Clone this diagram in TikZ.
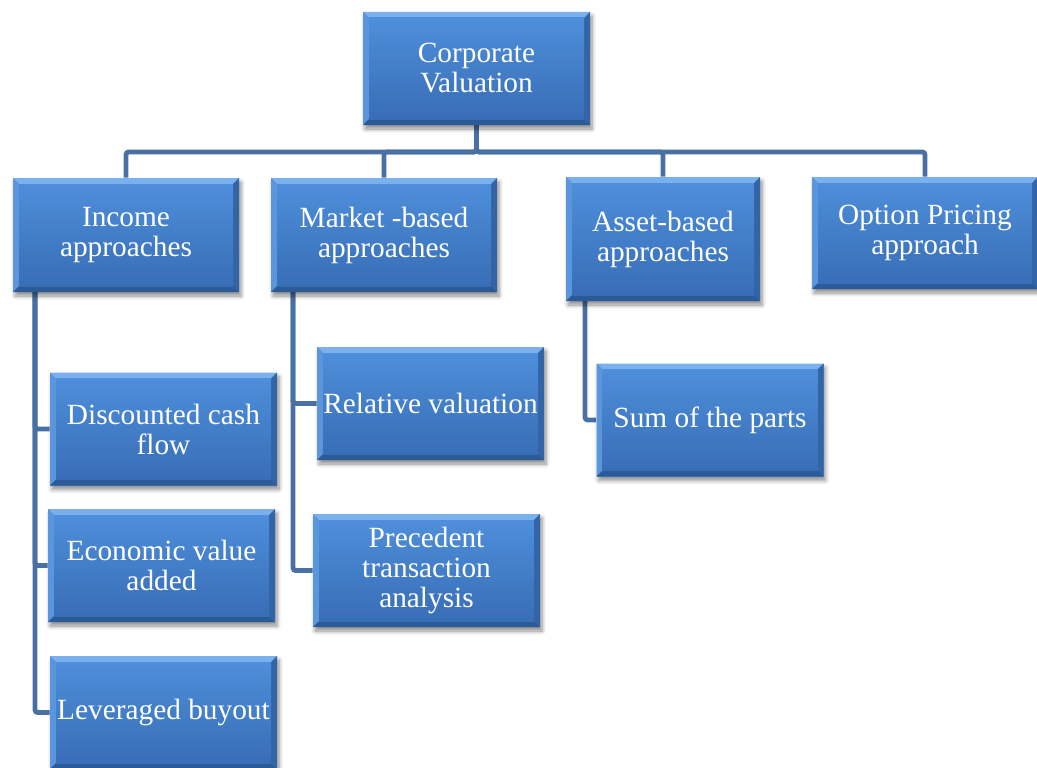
\documentclass[tikz,border=0pt]{standalone}
\usepackage{fontspec}
\setmainfont{Liberation Serif}
\usetikzlibrary{calc,shadows.blur,backgrounds}

\definecolor{facetop}{RGB}{78,142,218}
\definecolor{facebot}{RGB}{56,110,182}
\definecolor{bevtop}{RGB}{122,176,238}
\definecolor{bevleft}{RGB}{90,150,222}
\definecolor{bevright}{RGB}{50,100,166}
\definecolor{bevbot}{RGB}{44,90,150}
\definecolor{linkblue}{RGB}{72,112,164}

\newcommand\boxfont{\fontsize{22}{22.5}\selectfont}
\newcommand\bev{4.5pt}

\tikzset{
  bevel/.style={
    path picture={
      \coordinate (pNW) at (path picture bounding box.north west);
      \coordinate (pNE) at (path picture bounding box.north east);
      \coordinate (pSW) at (path picture bounding box.south west);
      \coordinate (pSE) at (path picture bounding box.south east);
      \coordinate (iNW) at ($(pNW)+(\bev,-\bev)$);
      \coordinate (iNE) at ($(pNE)+(-\bev,-\bev)$);
      \coordinate (iSW) at ($(pSW)+(\bev,\bev)$);
      \coordinate (iSE) at ($(pSE)+(-\bev,\bev)$);
      \fill[bevtop] (pNW) -- (pNE) -- (iNE) -- (iNW) -- cycle;
      \fill[bevleft] (pNW) -- (iNW) -- (iSW) -- (pSW) -- cycle;
      \fill[bevright] (pNE) -- (iNE) -- (iSE) -- (pSE) -- cycle;
      \fill[bevbot] (pSW) -- (iSW) -- (iSE) -- (pSE) -- cycle;
      \shade[top color=facetop, bottom color=facebot] (iNW) rectangle (iSE);
    }},
  box/.style={bevel, fill=facetop, text=white, font=\boxfont, align=center,
    inner sep=0pt, minimum width=227*0.75pt, minimum height=113*0.75pt,
    blur shadow={shadow xshift=1.5pt, shadow yshift=-3pt,
      shadow blur radius=3pt, shadow blur steps=6, shadow opacity=45}},
  link/.style={draw=linkblue, line width=3.6pt, rounded corners=2pt}
}

\begin{document}
\begin{tikzpicture}[x=0.75pt, y=-0.75pt]
\useasboundingbox (0,0) rectangle (1037,767);
\clip (0,0) rectangle (1037,767);

% top level
\node[box] (corp) at (476.5,68.5) {Corporate\\Valuation};

% main approaches
\node[box, minimum width=226*0.75pt, minimum height=114*0.75pt] (inc) at (126,235) {Income\\approaches};
\node[box, minimum width=226*0.75pt, minimum height=114*0.75pt] (mkt) at (384,235) {Market -based\\approaches};
\node[box, minimum width=194*0.75pt, minimum height=124*0.75pt] (ast) at (663,239) {Asset-based\\approaches};
\node[box, minimum width=226*0.75pt, minimum height=112*0.75pt] (opt) at (925,233) {Option Pricing\\approach};

% income methods
\node[box] (dcf) at (163.5,429) {Discounted cash\\flow};
\node[box] (eva) at (161.5,565.5) {Economic value\\added};
\node[box] (lbo) at (163.5,712.5) {Leveraged buyout};

% market methods
\node[box] (rel) at (430.5,403.5) {Relative valuation};
\node[box] (prec) at (426.5,570.5) {Precedent\\transaction\\analysis};

% asset methods
\node[box] (sum) at (710,420) {Sum of the parts};

% connector anchors
\coordinate (bus) at (477,152);
\coordinate (incstem) at (35,292);
\coordinate (mktstem) at (293,292);
\coordinate (aststem) at (585,301);

\begin{scope}[on background layer]
  \draw[link] (corp.south) -- (corp.south |- bus) -| (inc.north);
  \draw[link] (corp.south) -- (corp.south |- bus) -| (mkt.north);
  \draw[link] (corp.south) -- (corp.south |- bus) -| (ast.north);
  \draw[link] (corp.south) -- (corp.south |- bus) -| (opt.north);

  \draw[link] (incstem) |- (dcf.west);
  \draw[link] (incstem) |- (eva.west);
  \draw[link] (incstem) |- (lbo.west);

  \draw[link] (mktstem) |- (rel.west);
  \draw[link] (mktstem) |- (prec.west);

  \draw[link] (aststem) |- (sum.west);
\end{scope}
\end{tikzpicture}
\end{document}
